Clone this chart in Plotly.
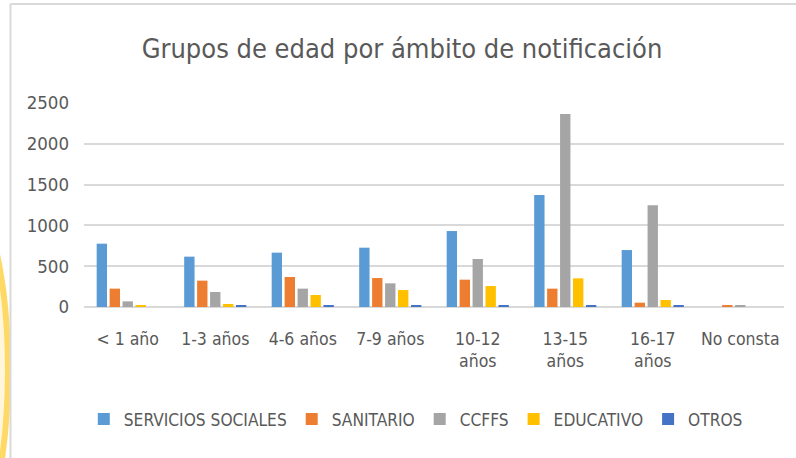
import plotly.graph_objects as go

categories = ["< 1 año", "1-3 años", "4-6 años", "7-9 años", "10-12<br>años", "13-15<br>años", "16-17<br>años", "No consta"]
servicios_sociales = [776, 617, 666, 727, 931, 1372, 698, 0]
sanitario = [225, 323, 368, 355, 335, 225, 53, 20]
ccffs = [69, 184, 225, 290, 588, 2365, 1246, 20]
educativo = [20, 37, 147, 208, 257, 351, 86, 0]
otros = [0, 20, 20, 20, 20, 20, 20, 0]

series = [
    ("SERVICIOS SOCIALES", servicios_sociales, "#5B9BD5"),
    ("SANITARIO", sanitario, "#ED7D31"),
    ("CCFFS", ccffs, "#A5A5A5"),
    ("EDUCATIVO", educativo, "#FFC000"),
    ("OTROS", otros, "#4472C4"),
]

FONT = "DejaVu Sans Condensed"

fig = go.Figure()
for name, vals, col in series:
    fig.add_trace(go.Bar(name=name, x=categories, y=vals, marker=dict(color=col, line=dict(width=0))))

fig.update_layout(
    width=796, height=458,
    barmode="group", bargap=0.26, bargroupgap=0.2,
    paper_bgcolor="white", plot_bgcolor="white",
    margin=dict(l=84, r=12, t=103, b=151),
    title=dict(text="Grupos de edad por ámbito de notificación", x=0.505, xanchor="center",
               y=0.895, yanchor="middle", font=dict(family=FONT, size=27, color="#595959")),
    font=dict(family=FONT, size=17, color="#595959"),
    showlegend=True,
    legend=dict(orientation="h", x=0.474, xanchor="center", y=-0.55, yanchor="middle",
                font=dict(family=FONT, size=17.2, color="#595959"), itemwidth=30, tracegroupgap=0),
    xaxis=dict(showgrid=False, showline=False, ticks="", tickfont=dict(size=17.5), automargin=False,
               ticklabelstandoff=19),
    yaxis=dict(range=[0, 2500], dtick=500, showgrid=True, gridcolor="#D9D9D9", gridwidth=1.5,
               zeroline=True, zerolinecolor="#D9D9D9", zerolinewidth=1.5, showline=False,
               ticks="", ticklabelstandoff=14, tickfont=dict(size=18.5), automargin=False),
)

# yellow decoration at left edge
fig.add_shape(type="circle", xref="paper", yref="paper", x0=-0.28, x1=-0.1086, y0=-1.289, y1=0.671,
              line=dict(color="#FFD966", width=6), fillcolor="#FFF6DC", layer="below")
# chart border lines (top and left)
fig.add_shape(type="line", xref="paper", yref="paper", x0=-0.105, x1=1.02, y0=1.485, y1=1.485,
              line=dict(color="#D9D9D9", width=2))
fig.add_shape(type="line", xref="paper", yref="paper", x0=-0.105, x1=-0.105, y0=1.485, y1=-0.75,
              line=dict(color="#D9D9D9", width=2))

fig.write_html("out.html", config={"displayModeBar": False},
               post_script="document.body.style.margin='0';")
